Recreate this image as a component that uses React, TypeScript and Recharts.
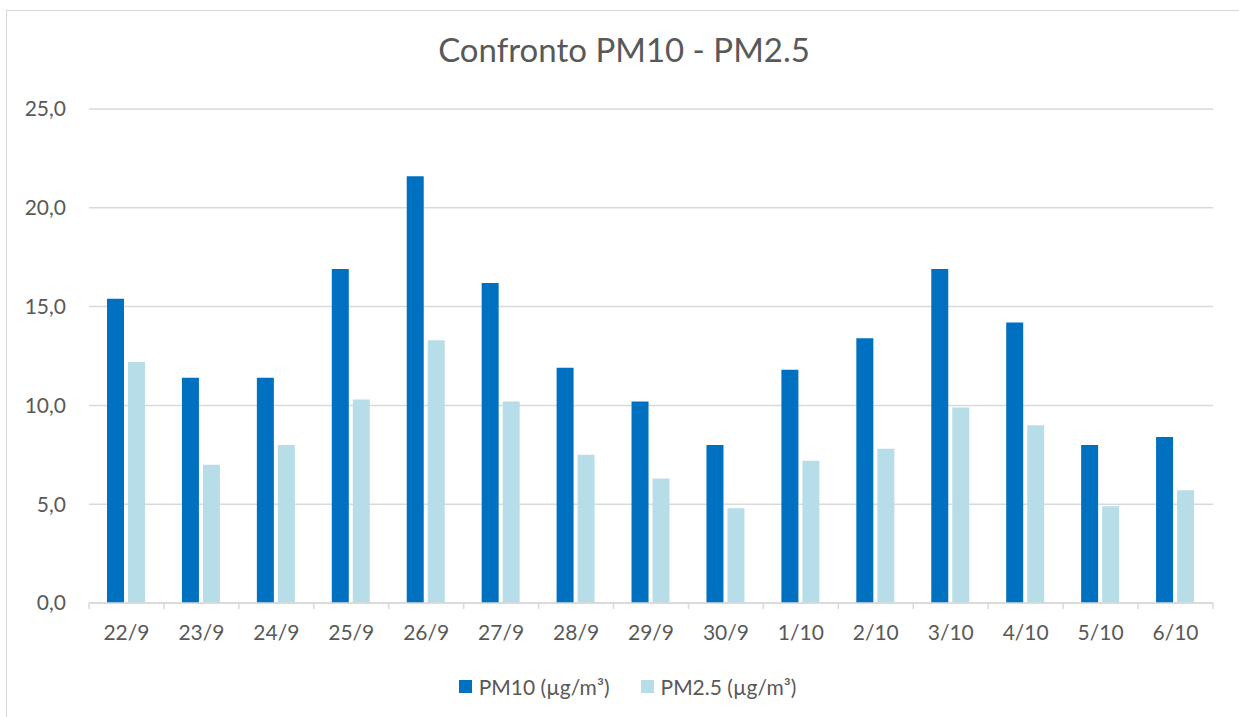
import React from 'react';
import { BarChart, Bar, XAxis, YAxis, CartesianGrid, Legend } from 'recharts';

// giorni del confronto
const days = ['22/9', '23/9', '24/9', '25/9', '26/9', '27/9', '28/9', '29/9', '30/9', '1/10', '2/10', '3/10', '4/10', '5/10', '6/10'];
const pm10 = [15.4, 11.4, 11.4, 16.9, 21.6, 16.2, 11.9, 10.2, 8.0, 11.8, 13.4, 16.9, 14.2, 8.0, 8.4];
const pm25 = [12.2, 7.0, 8.0, 10.3, 13.3, 10.2, 7.5, 6.3, 4.8, 7.2, 7.8, 9.9, 9.0, 4.9, 5.7];
const yTicks = [0, 5, 10, 15, 20, 25];

const PM10_NAME = 'PM10 (µg/m³)';
const PM25_NAME = 'PM2.5 (µg/m³)';

const data = days.map((d, i) => ({ day: d, pm10: pm10[i], pm25: pm25[i] }));

const FONT = 'Lato, "Open Sans", sans-serif';
const TEXT = '#595959';
const GRID = '#d9d9d9';

function DayTick(props: any) {
  const { x, y, payload, index } = props;
  const half = payload.offset || 0;
  const last = index === days.length - 1;
  return (
    <g>
      <line x1={x - half} x2={x - half} y1={y} y2={y + 6} stroke={GRID} strokeWidth={1.5} />
      {last && <line x1={x + half} x2={x + half} y1={y} y2={y + 6} stroke={GRID} strokeWidth={1.5} />}
      <text x={x} y={y + 22} dy="0.71em" textAnchor="middle" fill={TEXT} fontSize={21} fontFamily={FONT}>
        {payload.value}
      </text>
    </g>
  );
}

function LegendBox(props: any) {
  const items = props.payload || [];
  return (
    <div style={{ display: 'flex', justifyContent: 'center', paddingLeft: 16, fontFamily: FONT, fontSize: 21, color: TEXT }}>
      {items.map((it: any, i: number) => (
        <div key={i} style={{ display: 'flex', alignItems: 'center', marginLeft: i ? 31 : 0 }}>
          <span style={{ width: 13, height: 13, background: it.color, display: 'inline-block', marginRight: 7 }} />
          <span>{it.value}</span>
        </div>
      ))}
    </div>
  );
}

export default function App() {
  return (
    <div style={{ position: 'absolute', left: 0, top: 0, width: 1239, height: 717, overflow: 'hidden', background: '#fff' }}>
      <div style={{ position: 'absolute', left: 6, top: 10, width: 1260, height: 740, border: '1.5px solid #d9d9d9' }} />
      <div
        style={{
          position: 'absolute', left: 0, top: 33, width: 1248, textAlign: 'center',
          fontFamily: FONT, fontSize: 33, lineHeight: '33px', color: TEXT,
        }}
      >
        Confronto PM10 - PM2.5
      </div>
      <div style={{ position: 'absolute', left: 0, top: 0 }}>
        <BarChart
          width={1239}
          height={717}
          data={data}
          margin={{ top: 109, right: 26, left: 0, bottom: 54 }}
          barSize={17}
          barGap={4}
        >
          <CartesianGrid vertical={false} stroke={GRID} strokeWidth={1.5} />
          <XAxis
            dataKey="day"
            height={60}
            tickSize={0}
            tickMargin={0}
            tickLine={false}
            axisLine={{ stroke: GRID, strokeWidth: 1.5 }}
            tick={<DayTick />}
            interval={0}
          />
          <YAxis
            width={89}
            domain={[0, 25]}
            ticks={yTicks}
            axisLine={false}
            tickLine={false}
            tickSize={0}
            tickMargin={23}
            tick={{ fill: TEXT, fontSize: 21, fontFamily: FONT }}
            tickFormatter={(v: number) => v.toFixed(1).replace('.', ',')}
          />
          <Legend
            verticalAlign="middle"
            content={<LegendBox />}
            wrapperStyle={{ top: 674, left: 0, width: 1239 }}
          />
          <Bar dataKey="pm10" name={PM10_NAME} fill="#0070c0" isAnimationActive={false} />
          <Bar dataKey="pm25" name={PM25_NAME} fill="#b7dee8" isAnimationActive={false} />
        </BarChart>
      </div>
    </div>
  );
}
